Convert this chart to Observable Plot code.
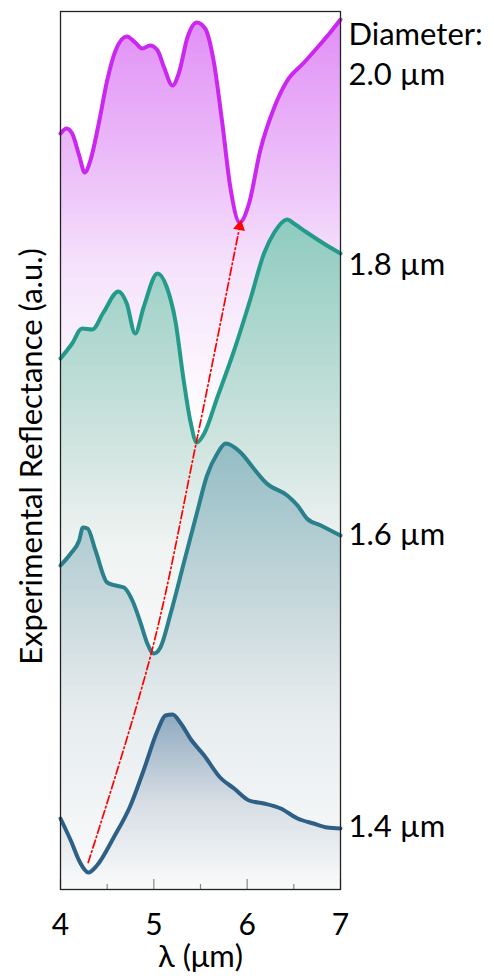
<!DOCTYPE html>
<html>
<head>
<meta charset="utf-8">
<script src="https://cdn.jsdelivr.net/npm/d3@7"></script>
<script src="https://cdn.jsdelivr.net/npm/@observablehq/plot@0.6"></script>
<style>
  html, body { margin: 0; padding: 0; background: #ffffff; }
</style>
</head>
<body>
<div id="chart"></div>
<script>
// Wavelength (µm) and offset reflectance (a.u.) for each diameter
const lambda20 = [4.0, 4.065, 4.125, 4.2, 4.26, 4.32, 4.41, 4.5, 4.59, 4.71, 4.8, 4.875, 4.96, 5.04, 5.11, 5.2, 5.27, 5.36, 5.46, 5.55, 5.64, 5.73, 5.82, 5.92, 6.02, 6.14, 6.29, 6.43, 6.61, 6.79, 6.89, 7.0];
const refl20   = [756, 761, 756, 734, 717, 729, 766, 809, 839, 853, 847, 841, 844, 839, 822, 804, 817, 852, 867, 861, 829, 769, 702, 667, 686, 739, 782, 809, 827, 846, 857, 870];

const lambda18 = [4.0, 4.125, 4.23, 4.34, 4.46, 4.62, 4.71, 4.8, 4.89, 5.04, 5.14, 5.23, 5.32, 5.39, 5.46, 5.54, 5.68, 5.86, 6.04, 6.18, 6.29, 6.43, 6.5, 6.64, 6.82, 7.0];
const refl18   = [531, 546, 561, 560, 577, 598, 586, 556, 582, 616, 602, 569, 509, 469, 447, 456, 492, 539, 592, 636, 657, 670, 666, 657, 646, 636];

const lambda16 = [4.0, 4.11, 4.2, 4.24, 4.29, 4.375, 4.5, 4.59, 4.68, 4.77, 4.86, 4.93, 5.0, 5.07, 5.18, 5.32, 5.46, 5.57, 5.68, 5.77, 5.93, 6.07, 6.21, 6.43, 6.54, 6.64, 6.79, 7.0];
const refl16   = [324, 336, 349, 362, 361, 339, 307, 304, 302, 289, 266, 246, 236, 242, 276, 326, 376, 414, 436, 446, 437, 421, 406, 394, 384, 371, 364, 354];

const lambda14 = [4.0, 4.11, 4.21, 4.3, 4.39, 4.57, 4.75, 4.89, 5.04, 5.125, 5.2, 5.29, 5.39, 5.54, 5.71, 5.86, 6.02, 6.18, 6.36, 6.54, 6.71, 6.86, 7.0];
const refl14   = [71, 49, 27, 17, 24, 52, 84, 119, 159, 174, 175, 166, 151, 134, 112, 101, 89, 86, 81, 71, 66, 62, 61];

// Resonance (dip) trace
const lambdaDip = [4.297, 4.98, 5.457, 5.92];
const reflDip   = [27, 239, 448, 663];

const seriesLabels = ["2.0 µm", "1.8 µm", "1.6 µm", "1.4 µm"];
const xTicks = [4, 5, 6, 7];
const xMinorTicks = [4.5, 5.5, 6.5];

const zip = (xs, ys) => xs.map((x, i) => ({x, y: ys[i]}));
const s20 = zip(lambda20, refl20);
const s18 = zip(lambda18, refl18);
const s16 = zip(lambda16, refl16);
const s14 = zip(lambda14, refl14);
const dip = zip(lambdaDip, reflDip);
const last = (s) => s[s.length - 1];

const colors = {s20: "#cc27f0", s18: "#239a8a", s16: "#2a808b", s14: "#2e5f86"};
const lab = "Lato, 'Open Sans', sans-serif";
const labSize = 31;

const chart = Plot.plot({
  width: 494,
  height: 980,
  marginLeft: 60,
  marginRight: 154,
  marginTop: 11,
  marginBottom: 91,
  style: {background: "#ffffff", fontFamily: lab, color: "#000"},
  x: {domain: [4, 7], label: null},
  y: {domain: [0, 878], axis: null, label: null},
  marks: [
    Plot.areaY(s20, {x: "x", y1: 459, y2: "y", fill: "url(#g20)", curve: "monotone-x"}),
    Plot.line(s20, {x: "x", y: "y", stroke: colors.s20, strokeWidth: 4, curve: "monotone-x"}),
    Plot.areaY(s18, {x: "x", y1: 236, y2: "y", fill: "url(#g18)", curve: "monotone-x"}),
    Plot.line(s18, {x: "x", y: "y", stroke: colors.s18, strokeWidth: 4, curve: "monotone-x"}),
    Plot.areaY(s16, {x: "x", y1: 0, y2: "y", fill: "url(#g16)", curve: "monotone-x"}),
    Plot.line(s16, {x: "x", y: "y", stroke: colors.s16, strokeWidth: 4, curve: "monotone-x"}),
    Plot.areaY(s14, {x: "x", y1: 0, y2: "y", fill: "url(#g14)", curve: "monotone-x"}),
    Plot.line(s14, {x: "x", y: "y", stroke: colors.s14, strokeWidth: 4, curve: "monotone-x"}),
    Plot.line(dip, {x: "x", y: "y", stroke: "#ff0000", strokeWidth: 1.7, strokeDasharray: "8,3,1.5,3", curve: "catmull-rom"}),
    Plot.dot([last(dip)], {x: "x", y: "y", symbol: "triangle", r: 4.5, fill: "#ff0000", stroke: "none", rotate: 11}),
    Plot.ruleX(xTicks, {y1: 0, y2: 10, stroke: "#888", strokeWidth: 1.2}),
    Plot.ruleX(xMinorTicks, {y1: 0, y2: 5, stroke: "#888", strokeWidth: 1.2}),
    Plot.frame({stroke: "#222", strokeWidth: 1.3}),
    Plot.axisX({ticks: xTicks, tickSize: 0, tickPadding: 24, fontSize: 30, fontFamily: lab, tickFormat: d3.format("d"), label: null}),
    Plot.text(["λ (μm)"], {frameAnchor: "bottom", dy: 68, fontSize: 31, fontFamily: lab, lineAnchor: "middle", textAnchor: "middle"}),
    Plot.text(["Experimental Reflectance (a.u.)"], {frameAnchor: "left", dx: -28, dy: 6, rotate: -90, fontSize: 31, fontFamily: lab, lineAnchor: "middle", textAnchor: "middle"}),
    Plot.text([last(s20)], {x: "x", y: "y", text: () => "Diameter:", dx: 8, dy: 16, textAnchor: "start", fontSize: labSize, fontFamily: lab}),
    Plot.text([last(s20)], {x: "x", y: "y", text: () => seriesLabels[0], dx: 8, dy: 56, textAnchor: "start", fontSize: labSize, fontFamily: lab}),
    Plot.text([last(s18)], {x: "x", y: "y", text: () => seriesLabels[1], dx: 8, dy: 12, textAnchor: "start", fontSize: labSize, fontFamily: lab}),
    Plot.text([last(s16)], {x: "x", y: "y", text: () => seriesLabels[2], dx: 8, dy: 0, textAnchor: "start", fontSize: labSize, fontFamily: lab}),
    Plot.text([last(s14)], {x: "x", y: "y", text: () => seriesLabels[3], dx: 8, dy: -1, textAnchor: "start", fontSize: labSize, fontFamily: lab})
  ]
});

// vertical gradients for the filled areas
const gradients = {
  g20: [[0, "#e18ff6"], [0.4, "#edc4f9"], [0.6, "#f5e2fb"], [1, "#ffffff"]],
  g18: [[0, "#8ecbbf"], [0.5, "#cde3de"], [0.75, "#eff3f2"], [1, "#f8f9f9"]],
  g16: [[0, "#93bdc4"], [0.46, "#d5e0e3"], [0.6, "#e6ecee"], [1, "#fbfbfc"]],
  g14: [[0, "#8fa9c0"], [0.5, "#d6dde4"], [1, "#fafbfb"]]
};
const NS = "http://www.w3.org/2000/svg";
const defs = document.createElementNS(NS, "defs");
for (const [id, stops] of Object.entries(gradients)) {
  const g = document.createElementNS(NS, "linearGradient");
  g.setAttribute("id", id);
  g.setAttribute("x1", "0"); g.setAttribute("y1", "0");
  g.setAttribute("x2", "0"); g.setAttribute("y2", "1");
  for (const [o, c] of stops) {
    const s = document.createElementNS(NS, "stop");
    s.setAttribute("offset", o);
    s.setAttribute("stop-color", c);
    g.appendChild(s);
  }
  defs.appendChild(g);
}
chart.insertBefore(defs, chart.firstChild);
document.getElementById("chart").appendChild(chart);
</script>
</body>
</html>
